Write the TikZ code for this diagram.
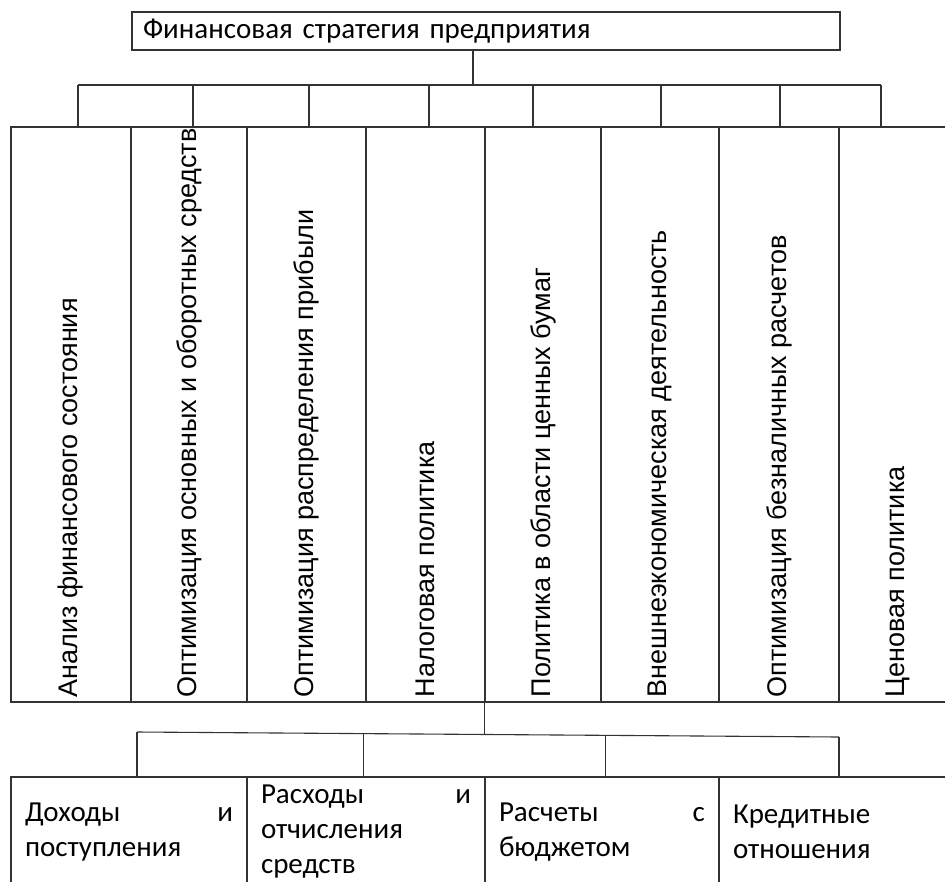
\documentclass[tikz,border=0pt]{standalone}
\usepackage{fontspec}
\setmainfont{Carlito}
\newfontfamily\colfont{Liberation Sans}
\usetikzlibrary{calc,positioning}
\tikzset{
  boxline/.style={draw=black!80,line width=1.1pt},
  rootbox/.style={boxline,minimum width=708,minimum height=38,text width=686,
    align=left,inner xsep=11,inner ysep=0},
  colbox/.style={boxline,minimum height=575,inner sep=0},
  coltext/.style={rotate=90,anchor=west,inner sep=0,
    font=\colfont\fontsize{27}{32}\selectfont},
  leafbox/.style={boxline,minimum height=110,align=left,inner xsep=14,inner ysep=0}
}

\begin{document}
\begin{tikzpicture}[x=1pt,y=1pt,font=\fontsize{29}{35}\selectfont]
  \clip (0,0) rectangle (945,-881);
  % root
  \node[rootbox] (fs) at (486,-31) {Финансовая стратегия предприятия};
  % columns of the strategy
  \foreach \n/\cx/\w in {1/71/120,2/189/116,3/306.5/119,4/425.5/119,
                         5/543/116,6/660/118,7/779/120,8/898/118}
     \node[colbox,minimum width=\w] (c\n) at (\cx,-414.5) {};
  \foreach \n/\txt in {1/{Анализ финансового состояния},
                       2/{Оптимизация основных и оборотных средств},
                       3/{Оптимизация распределения прибыли},
                       4/{Налоговая политика},
                       5/{Политика в области ценных бумаг},
                       6/{Внешнеэкономическая деятельность},
                       7/{Оптимизация безналичных расчетов},
                       8/{Ценовая политика}}
     \node[coltext] (t\n) at ($(c\n.south)+(0,5)$) {\txt};
  % upper bus
  \coordinate (s0) at (473,-85);
  \draw[boxline] (fs.south -| s0) -- (s0);
  \foreach \n/\bx in {1/78,2/193,3/309,4/429,5/533,6/661,7/780,8/881}{
     \coordinate (b\n) at (\bx,-85);
     \draw[boxline] (b\n) -- (b\n |- c\n.north);
  }
  \draw[boxline] (b1) -- (b8);
  % lower boxes
  \node[leafbox,minimum width=236,text width=208] (d1) at (129,-832)
     {Доходы\hfill и\\поступления};
  \node[leafbox,minimum width=238,text width=210] (d2) at (366,-832)
     {Расходы\hfill и\\отчисления\\средств};
  \node[leafbox,minimum width=234,text width=206] (d3) at (602,-832)
     {Расчеты\hfill с\\бюджетом};
  \node[leafbox,minimum width=238,text width=210] (d4) at (838,-832)
     {Кредитные\\отношения};
  % lower bus (slightly sloped)
  \coordinate (l1) at (137,-732);
  \coordinate (l4) at (839,-737);
  \coordinate (l2) at ($(l1)!0.322!(l4)$);
  \coordinate (l3) at ($(l1)!0.668!(l4)$);
  \coordinate (m) at ($(l1)!0.496!(l4)$);
  \draw[boxline] (c5.south west) -- (c5.south west |- m);
  \draw[boxline] (l1) -- (l4);
  \foreach \n in {1,...,4}
     \draw[boxline] (l\n) -- (l\n |- d\n.north);
\end{tikzpicture}
\end{document}
